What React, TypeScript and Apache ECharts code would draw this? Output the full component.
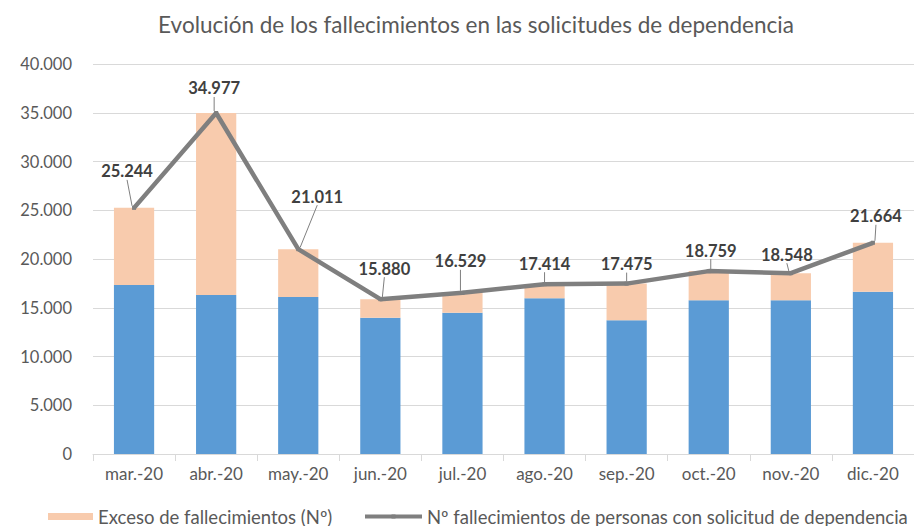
import React, { useEffect, useRef } from "react";
import * as echarts from "echarts";

const categories = ["mar.-20", "abr.-20", "may.-20", "jun.-20", "jul.-20", "ago.-20", "sep.-20", "oct.-20", "nov.-20", "dic.-20"];
const baseValues = [17340, 16320, 16110, 13970, 14490, 15980, 13730, 15780, 15780, 16630];
const excessValues = [7904, 18657, 4901, 1910, 2039, 1434, 3745, 2979, 2768, 5034];
const totalValues = [25244, 34977, 21011, 15880, 16529, 17414, 17475, 18759, 18548, 21664];

const titleText = "Evolución de los fallecimientos en las solicitudes de dependencia";
const excessName = "Exceso de fallecimientos (Nº)";
const lineName = "Nº fallecimientos de personas con solicitud de dependencia";

// label displacement (px) relative to default 'top' position
const labelShift: [number, number][] = [
  [-7, -21], [-2, -9], [19, -37], [4, -15], [-2, -16],
  [0, -5], [0, -4], [2, -5], [-4, -3], [3, -11],
];

const FONT = "Lato";
const fmt = (n: number) => String(n).replace(/\B(?=(\d{3})+(?!\d))/g, ".");

export default function App() {
  const ref = useRef<HTMLDivElement>(null);
  useEffect(() => {
    document.body.style.margin = "0";
    const chart = echarts.init(ref.current!, null, { renderer: "svg" });
    chart.setOption({
      animation: false,
      backgroundColor: "#ffffff",
      textStyle: { fontFamily: FONT },
      title: {
        text: titleText,
        left: 471,
        textAlign: "center",
        top: 8,
        textStyle: { fontFamily: FONT, fontSize: 22.5, fontWeight: "normal", color: "#595959" },
      },
      legend: [
        {
          data: [excessName],
          left: 48,
          top: 507,
          padding: 0,
          itemWidth: 45,
          itemHeight: 7,
          itemGap: 5,
          icon: "rect",
          textStyle: { fontFamily: FONT, fontSize: 18.5, color: "#595959", padding: [0, 0, 0, 0] },
        },
        {
          data: [lineName],
          left: 363,
          top: 507,
          padding: 0,
          itemWidth: 57,
          itemHeight: 5,
          lineStyle: { width: 4, color: "#7f7f7f" },
          textStyle: { fontFamily: FONT, fontSize: 18.5, color: "#595959" },
        },
      ],
      grid: { left: 93, right: 0, top: 64, bottom: 72, containLabel: false },
      xAxis: {
        type: "category",
        data: categories,
        axisLine: { lineStyle: { color: "#d9d9d9", width: 1 } },
        axisTick: { show: true, length: 7, lineStyle: { color: "#d9d9d9" } },
        axisLabel: { fontFamily: FONT, fontSize: 17, color: "#595959", margin: 11 },
      },
      yAxis: {
        type: "value",
        min: 0,
        max: 40000,
        interval: 5000,
        axisLine: { show: false },
        axisTick: { show: false },
        splitLine: { lineStyle: { color: "#d9d9d9", width: 1 } },
        axisLabel: {
          fontFamily: FONT,
          fontSize: 16.5,
          color: "#595959",
          margin: 21,
          formatter: (v: number) => fmt(v),
        },
      },
      series: [
        {
          name: "Fallecimientos esperados",
          type: "bar",
          stack: "total",
          data: baseValues,
          barWidth: "49%",
          itemStyle: { color: "#5b9bd5" },
        },
        {
          name: excessName,
          type: "bar",
          stack: "total",
          data: excessValues,
          barWidth: "49%",
          itemStyle: { color: "#f8cbad" },
        },
        {
          name: lineName,
          type: "line",
          data: totalValues,
          symbol: "rect",
          symbolSize: 4,
          itemStyle: { color: "#7f7f7f" },
          lineStyle: { color: "#7f7f7f", width: 4.5 },
          z: 5,
          label: {
            show: true,
            position: "top",
            distance: 5,
            fontFamily: FONT,
            fontSize: 16.5,
            fontWeight: "bold",
            color: "#404040",
            formatter: (p: any) => fmt(p.value),
          },
          labelLine: { show: true, lineStyle: { color: "#7f7f7f", width: 1 } },
          labelLayout: (p: any) => ({ dx: labelShift[p.dataIndex][0], dy: labelShift[p.dataIndex][1] }),
        },
      ],
    });
    return () => chart.dispose();
  }, []);
  return <div ref={ref} style={{ width: 914, height: 526 }} />;
}
